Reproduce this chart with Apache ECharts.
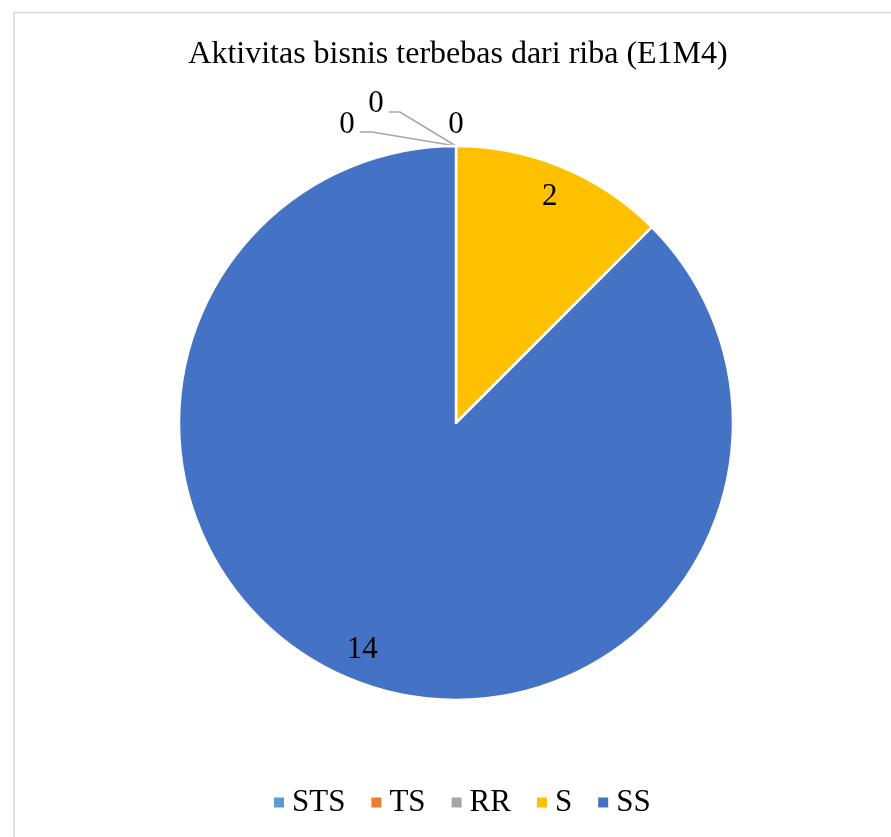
<!DOCTYPE html>
<html>
<head>
<meta charset="utf-8">
<script src="https://cdn.jsdelivr.net/npm/echarts@6/dist/echarts.min.js"></script>
<style>
  html, body { margin: 0; padding: 0; background: #ffffff; }
  #chart { width: 891px; height: 837px; }
</style>
</head>
<body>
<div id="chart"></div>
<script>
// Response categories and counts
const categories = ['STS', 'TS', 'RR', 'S', 'SS'];
const counts = [0, 0, 0, 2, 14];
const colors = ['#5B9BD5', '#ED7D31', '#A5A5A5', '#FFC000', '#4472C4'];
const titleText = 'Aktivitas bisnis terbebas dari riba (E1M4)';

// Pie geometry
const CX = 456, CY = 423, R = 277;
const total = counts.reduce((a, b) => a + b, 0);

// Offsets (relative to the top of the pie) for the stacked zero-value labels
const zeroLabelOffsets = [
  { label: [-109, -21], line: [[-84, -14], [-96, -14]] },
  { label: [-80, -42], line: [[-56, -34], [-67, -34]] },
  { label: [0, -21], line: null }
];

const fontFamily = '"Liberation Serif", "Times New Roman", serif';

const chart = echarts.init(document.getElementById('chart'), null, { renderer: 'canvas' });

const seriesData = categories.map((name, i) => ({
  name: name,
  value: counts[i],
  itemStyle: { color: colors[i] },
  label: { position: counts[i] === 0 ? 'outside' : 'inside' },
  labelLine: { show: counts[i] === 0 && zeroLabelOffsets[i] && zeroLabelOffsets[i].line !== null }
}));

function labelLayout(params) {
  const i = params.dataIndex;
  const topX = CX, topY = CY - R;
  if (counts[i] === 0) {
    const o = zeroLabelOffsets[i];
    const out = {
      x: topX + o.label[0],
      y: topY + o.label[1],
      align: 'center',
      verticalAlign: 'middle'
    };
    if (o.line) {
      out.labelLinePoints = [
        [topX, topY],
        [topX + o.line[0][0], topY + o.line[0][1]],
        [topX + o.line[1][0], topY + o.line[1][1]]
      ];
    }
    return out;
  }
  // Non-zero slices: label placed near the rim, at the slice's mid angle
  let before = 0;
  for (let k = 0; k < i; k++) before += counts[k];
  const mid = (before + counts[i] / 2) / total * Math.PI * 2;
  const rr = R * 0.885;
  return {
    x: CX + rr * Math.sin(mid),
    y: CY - rr * Math.cos(mid),
    align: 'center',
    verticalAlign: 'middle'
  };
}

chart.setOption({
  backgroundColor: '#ffffff',
  animation: false,
  title: {
    text: titleText,
    left: 453,
    textAlign: 'center',
    top: 34,
    textStyle: {
      fontFamily: fontFamily,
      fontSize: 32,
      fontWeight: 'normal',
      color: '#000000'
    }
  },
  legend: {
    data: categories,
    bottom: 14,
    left: 267,
    icon: 'rect',
    itemWidth: 12,
    itemHeight: 12,
    itemGap: 24,
    textStyle: {
      fontFamily: fontFamily,
      fontSize: 31,
      color: '#000000',
      padding: [0, 0, 0, 2]
    }
  },
  graphic: [{
    type: 'rect',
    shape: { x: 14, y: 12.5, width: 900, height: 850 },
    style: { fill: 'none', stroke: '#d9d9d9', lineWidth: 1.5 },
    silent: true
  }],
  series: [{
    type: 'pie',
    center: [CX, CY],
    radius: R,
    startAngle: 90,
    clockwise: true,
    avoidLabelOverlap: false,
    data: seriesData,
    itemStyle: { borderColor: '#ffffff', borderWidth: 2.5 },
    label: {
      show: true,
      formatter: '{c}',
      fontFamily: fontFamily,
      fontSize: 31,
      color: '#000000'
    },
    labelLine: {
      lineStyle: { color: '#a6a6a6', width: 1.5 },
      length: 10,
      length2: 10
    },
    labelLayout: labelLayout,
    emphasis: { disabled: true }
  }]
});
</script>
</body>
</html>
